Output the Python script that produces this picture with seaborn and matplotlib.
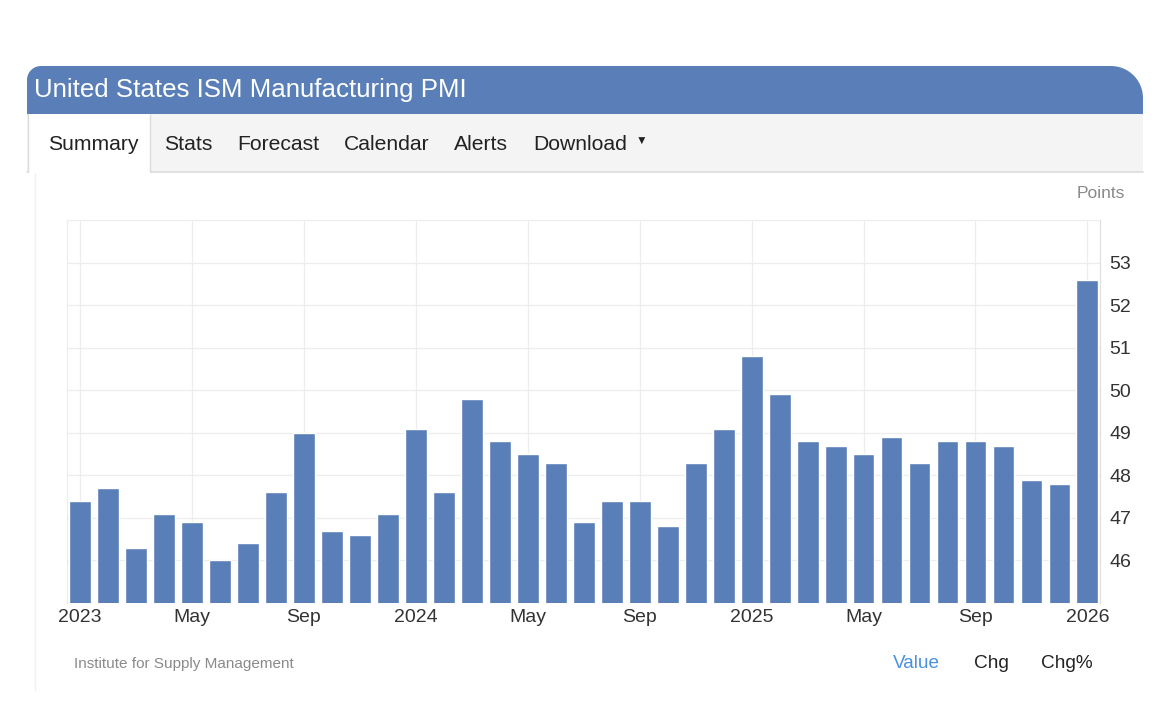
import numpy as np
import pandas as pd
import matplotlib
matplotlib.use("Agg")
import matplotlib.pyplot as plt
from matplotlib.path import Path
from matplotlib.patches import PathPatch, Rectangle
import seaborn as sns

# ---- data ----
months = pd.date_range("2023-01-01", "2026-01-01", freq="MS").strftime("%Y-%m").tolist()
pmi = [47.4, 47.7, 46.3, 47.1, 46.9, 46.0, 46.4, 47.6, 49.0, 46.7, 46.6, 47.1,
       49.1, 47.6, 49.8, 48.8, 48.5, 48.3, 46.9, 47.4, 47.4, 46.8, 48.3, 49.1,
       50.8, 49.9, 48.8, 48.7, 48.5, 48.9, 48.3, 48.8, 48.8, 48.7, 47.9, 47.8,
       52.6]
tick_pos = [0, 4, 8, 12, 16, 20, 24, 28, 32, 36]
tick_labels = ["2023", "May", "Sep", "2024", "May", "Sep", "2025", "May", "Sep", "2026"]
y_ticks = [46, 47, 48, 49, 50, 51, 52, 53]
title = "United States ISM Manufacturing PMI"
tabs = ["Summary", "Stats", "Forecast", "Calendar", "Alerts", "Download"]
tab_x = [48, 164, 237, 344, 454, 533]

df = pd.DataFrame({"month": months, "value": pmi})

sns.set_theme(style="white")
plt.rcParams["font.family"] = ["Liberation Sans", "DejaVu Sans"]

W, H = 1170, 723
fig = plt.figure(figsize=(W / 100, H / 100), dpi=100)
fig.patch.set_facecolor("white")

# ---- background overlay in pixel coords ----
bg = fig.add_axes([0, 0, 1, 1], zorder=0)
bg.set_xlim(0, W)
bg.set_ylim(H, 0)
bg.axis("off")

BLUE = "#5a7fb8"

def rounded_top(x0, y0, x1, y1, rl, rr):
    pts = [(x0, y1)]
    for t in np.linspace(np.pi, 1.5 * np.pi, 20):
        pts.append((x0 + rl + rl * np.cos(t), y0 + rl + rl * np.sin(t)))
    for t in np.linspace(1.5 * np.pi, 2 * np.pi, 20):
        pts.append((x1 - rr + rr * np.cos(t), y0 + rr + rr * np.sin(t)))
    pts.append((x1, y1))
    pts.append((x0, y1))
    return Path(pts, closed=True)

bg.add_patch(PathPatch(rounded_top(27, 66, 1143, 114, 14, 32), facecolor=BLUE, edgecolor="none"))
bg.text(34, 90, title, color="white", fontsize=18.6, va="center", ha="left")

# tabs bar
bg.add_patch(Rectangle((27, 114), 1116, 58, facecolor="#f4f4f4", edgecolor="none"))
bg.plot([27, 1143], [172, 172], color="#dcdcdc", lw=1.2)
bg.add_patch(Rectangle((28, 114), 122, 59, facecolor="white", edgecolor="none", zorder=3))
bg.plot([28, 28], [114, 172], color="#dcdcdc", lw=1, zorder=4)
bg.plot([150, 150], [114, 172], color="#dcdcdc", lw=1, zorder=4)
for lbl, x in zip(tabs, tab_x):
    bg.text(x, 144, lbl, color="#222222", fontsize=15.2, va="center", ha="left", zorder=5)
bg.text(636, 142, "\u25BC", color="#222222", fontsize=8.5, va="center", ha="left", zorder=5)

# card left border
bg.plot([35, 35], [172, 690], color="#f2f2f2", lw=1)

bg.text(1125, 194, "Points", color="#8a8a8a", fontsize=12.5, va="center", ha="right")
bg.text(74, 664, "Institute for Supply Management", color="#8a8a8a", fontsize=11,
        va="center", ha="left")
bg.text(893, 664, "Value", color="#4a90e2", fontsize=13.7, va="center", ha="left")
bg.text(974, 664, "Chg", color="#222222", fontsize=13.7, va="center", ha="left")
bg.text(1041, 664, "Chg%", color="#222222", fontsize=13.7, va="center", ha="left")

# ---- chart ----
left, right, top, bottom = 67, 1100, 220, 603
ax = fig.add_axes([left / W, 1 - bottom / H, (right - left) / W, (bottom - top) / H], zorder=2)
ax.patch.set_alpha(0)
sns.barplot(data=df, x="month", y="value", color=BLUE, saturation=1, width=0.78, ax=ax)
ax.set_ylim(45, 54)
ax.set_xlim(-0.47, 36.45)
ax.set_xlabel("")
ax.set_ylabel("")
ax.yaxis.tick_right()
ax.set_yticks(y_ticks)
ax.set_yticklabels([str(v) for v in y_ticks], fontsize=14, color="#333333")
ax.set_xticks(tick_pos)
ax.set_xticklabels(tick_labels, fontsize=14, color="#333333")
ax.tick_params(axis="both", length=0, pad=4)
ax.tick_params(axis="y", pad=7)
for v in range(46, 55):
    ax.axhline(v, color="#ededed", lw=0.9, zorder=0)
for p in tick_pos:
    ax.axvline(p, color="#ededed", lw=0.9, zorder=0)
for s in ["top", "bottom"]:
    ax.spines[s].set_visible(False)
ax.spines["left"].set_color("#ededed")
ax.spines["right"].set_color("#e0e0e0")
ax.spines["left"].set_linewidth(0.9)
ax.spines["right"].set_linewidth(0.9)
for bar in ax.patches:
    bar.set_zorder(2)

fig.savefig("out.png", dpi=100)
